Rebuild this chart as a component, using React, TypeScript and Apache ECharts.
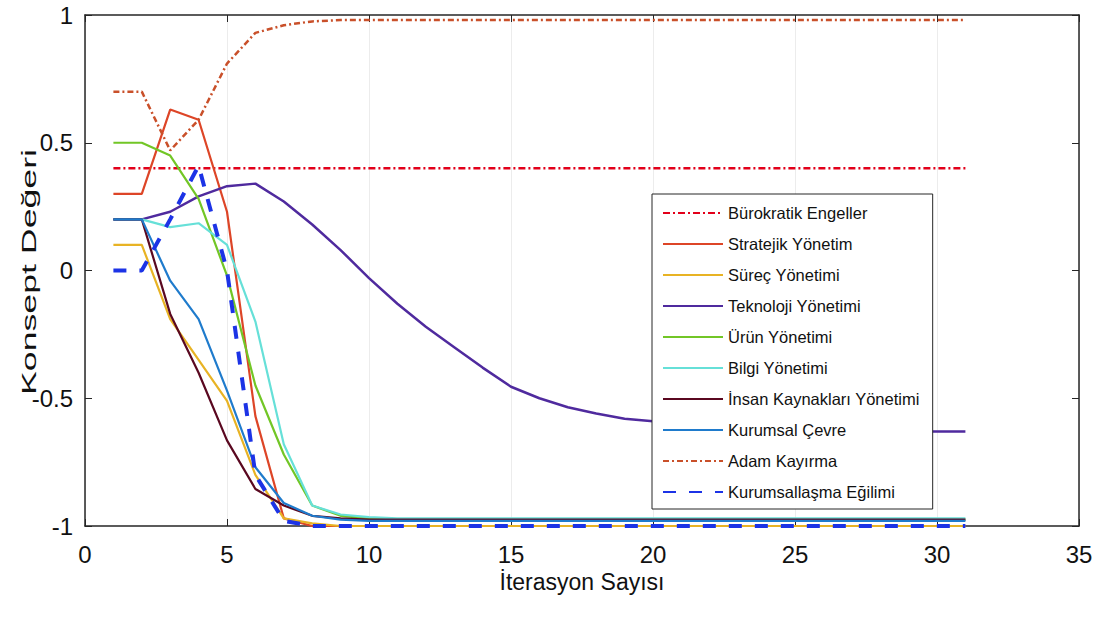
import React, { useEffect, useRef } from "react";
import * as echarts from "echarts";

const iterations = [1, 2, 3, 4, 5, 6, 7, 8, 9, 10, 11, 12, 13, 14, 15, 16, 17, 18, 19, 20, 21, 22, 23, 24, 25, 26, 27, 28, 29, 30, 31];

const burokratik = [0.4, 0.4, 0.4, 0.4, 0.4, 0.4, 0.4, 0.4, 0.4, 0.4, 0.4, 0.4, 0.4, 0.4, 0.4, 0.4, 0.4, 0.4, 0.4, 0.4, 0.4, 0.4, 0.4, 0.4, 0.4, 0.4, 0.4, 0.4, 0.4, 0.4, 0.4];
const stratejik = [0.3, 0.3, 0.63, 0.59, 0.23, -0.57, -0.97, -1, -1, -1, -1, -1, -1, -1, -1, -1, -1, -1, -1, -1, -1, -1, -1, -1, -1, -1, -1, -1, -1, -1, -1];
const surec = [0.1, 0.1, -0.19, -0.35, -0.51, -0.8, -0.97, -0.99, -1, -1, -1, -1, -1, -1, -1, -1, -1, -1, -1, -1, -1, -1, -1, -1, -1, -1, -1, -1, -1, -1, -1];
const teknoloji = [0.2, 0.2, 0.23, 0.29, 0.33, 0.34, 0.27, 0.18, 0.08, -0.03, -0.13, -0.22, -0.3, -0.38, -0.455, -0.5, -0.535, -0.56, -0.58, -0.59, -0.6, -0.61, -0.615, -0.62, -0.62, -0.625, -0.625, -0.63, -0.63, -0.63, -0.63];
const urun = [0.5, 0.5, 0.45, 0.28, -0.02, -0.45, -0.72, -0.92, -0.96, -0.97, -0.975, -0.975, -0.975, -0.975, -0.975, -0.975, -0.975, -0.975, -0.975, -0.975, -0.975, -0.975, -0.975, -0.975, -0.975, -0.975, -0.975, -0.975, -0.975, -0.975, -0.975];
const bilgi = [0.2, 0.2, 0.17, 0.185, 0.1, -0.2, -0.68, -0.92, -0.955, -0.965, -0.97, -0.97, -0.97, -0.97, -0.97, -0.97, -0.97, -0.97, -0.97, -0.97, -0.97, -0.97, -0.97, -0.97, -0.97, -0.97, -0.97, -0.97, -0.97, -0.97, -0.97];
const insan = [0.2, 0.2, -0.17, -0.4, -0.665, -0.855, -0.92, -0.96, -0.97, -0.975, -0.975, -0.975, -0.975, -0.975, -0.975, -0.975, -0.975, -0.975, -0.975, -0.975, -0.975, -0.975, -0.975, -0.975, -0.975, -0.975, -0.975, -0.975, -0.975, -0.975, -0.975];
const kurumsalCevre = [0.2, 0.2, -0.04, -0.19, -0.47, -0.77, -0.91, -0.96, -0.975, -0.98, -0.98, -0.98, -0.98, -0.98, -0.98, -0.98, -0.98, -0.98, -0.98, -0.98, -0.98, -0.98, -0.98, -0.98, -0.98, -0.98, -0.98, -0.98, -0.98, -0.98, -0.98];
const adamKayirma = [0.7, 0.7, 0.47, 0.59, 0.81, 0.93, 0.96, 0.975, 0.98, 0.98, 0.98, 0.98, 0.98, 0.98, 0.98, 0.98, 0.98, 0.98, 0.98, 0.98, 0.98, 0.98, 0.98, 0.98, 0.98, 0.98, 0.98, 0.98, 0.98, 0.98, 0.98];
const kurumsallasma = [0, 0, 0.2, 0.41, 0.0, -0.8, -0.98, -1, -1, -1, -1, -1, -1, -1, -1, -1, -1, -1, -1, -1, -1, -1, -1, -1, -1, -1, -1, -1, -1, -1, -1];

const xTicks = [0, 5, 10, 15, 20, 25, 30, 35];
const yTicks = [-1, -0.5, 0, 0.5, 1];

const seriesDefs = [
  { name: "Bürokratik Engeller", values: burokratik, color: "#e2001a", width: 2.5, type: [7, 3, 2, 3] as any },
  { name: "Stratejik Yönetim", values: stratejik, color: "#dd4527", width: 2.2, type: "solid" as any },
  { name: "Süreç Yönetimi", values: surec, color: "#e8b324", width: 2.2, type: "solid" as any },
  { name: "Teknoloji Yönetimi", values: teknoloji, color: "#4f2a9e", width: 2.5, type: "solid" as any },
  { name: "Ürün Yönetimi", values: urun, color: "#72c626", width: 2.2, type: "solid" as any },
  { name: "Bilgi Yönetimi", values: bilgi, color: "#66e0d8", width: 2.2, type: "solid" as any },
  { name: "İnsan Kaynakları Yönetimi", values: insan, color: "#5a0820", width: 2.2, type: "solid" as any },
  { name: "Kurumsal Çevre", values: kurumsalCevre, color: "#1f7bcc", width: 2.2, type: "solid" as any },
  { name: "Adam Kayırma", values: adamKayirma, color: "#c9502a", width: 2.5, type: [6, 3, 2, 3] as any },
  { name: "Kurumsallaşma Eğilimi", values: kurumsallasma, color: "#1c33e6", width: 4, type: [13, 13] as any },
];

export default function App() {
  const ref = useRef<HTMLDivElement>(null);
  useEffect(() => {
    if (!ref.current) return;
    const chart = echarts.init(ref.current, undefined, { renderer: "svg" });
    const font = "Liberation Sans, Arial, sans-serif";
    const axisCommon = {
      type: "value" as const,
      axisLine: { show: true, onZero: false, lineStyle: { color: "#262626", width: 1.5 } },
      axisTick: { show: true, inside: true, length: 7, lineStyle: { color: "#262626", width: 1 } },
    };
    chart.setOption({
      animation: false,
      backgroundColor: "#ffffff",
      grid: { left: 85, right: 22, top: 15, bottom: 92 },
      legend: {
        orient: "vertical",
        left: 652,
        top: 194,
        padding: [9, 13, 7, 10],
        backgroundColor: "#ffffff",
        borderColor: "#262626",
        borderWidth: 1,
        borderRadius: 0,
        itemWidth: 60,
        itemHeight: 14,
        itemGap: 11,
        itemStyle: { color: "rgba(0,0,0,0)", borderWidth: 0, opacity: 0 },
        textStyle: { fontFamily: font, fontSize: 16.5, color: "#111", lineHeight: 20 },
        data: seriesDefs.map((s) => s.name),
      },
      xAxis: [
        {
          ...axisCommon,
          position: "bottom",
          min: 0,
          max: 35,
          interval: 5,
          axisLabel: {
            show: true,
            color: "#111",
            fontFamily: font,
            fontSize: 24,
            margin: 16,
            formatter: (v: number) => (xTicks.includes(v) ? String(v) : ""),
          },
          splitLine: { show: true, lineStyle: { color: "#ececec", width: 1 } },
          name: "İterasyon Sayısı",
          nameLocation: "middle",
          nameGap: 42,
          nameTextStyle: { fontFamily: font, fontSize: 23, color: "#111" },
        },
        {
          ...axisCommon,
          position: "top",
          min: 0,
          max: 35,
          interval: 5,
          axisLabel: { show: false },
          splitLine: { show: false },
        },
      ],
      yAxis: [
        {
          ...axisCommon,
          position: "left",
          min: -1,
          max: 1,
          interval: 0.5,
          axisLabel: {
            show: true,
            color: "#111",
            fontFamily: font,
            fontSize: 24,
            margin: 12,
            formatter: (v: number) => (yTicks.includes(v) ? String(v) : ""),
          },
          splitLine: { show: false },
        },
        {
          ...axisCommon,
          position: "right",
          min: -1,
          max: 1,
          interval: 0.5,
          axisLabel: { show: false },
          splitLine: { show: false },
        },
      ],
      graphic: [
        {
          type: "text",
          x: 28,
          y: 272,
          rotation: Math.PI / 2,
          scaleX: 1.7,
          style: {
            text: "Konsept Değeri",
            font: "21px Liberation Sans, Arial, sans-serif",
            fill: "#111",
            textAlign: "center",
            textVerticalAlign: "middle",
          },
        },
      ],
      series: seriesDefs.map((s) => ({
        name: s.name,
        type: "line",
        xAxisIndex: 0,
        yAxisIndex: 0,
        showSymbol: false,
        symbol: "none",
        data: iterations.map((it, i) => [it, s.values[i]]),
        lineStyle: { color: s.color, width: s.width, type: s.type },
        itemStyle: { color: s.color },
        emphasis: { disabled: true },
      })),
    });
    return () => chart.dispose();
  }, []);
  return (
    <div
      ref={ref}
      style={{ position: "fixed", left: 0, top: 0, width: 1101, height: 618, background: "#fff" }}
    />
  );
}
